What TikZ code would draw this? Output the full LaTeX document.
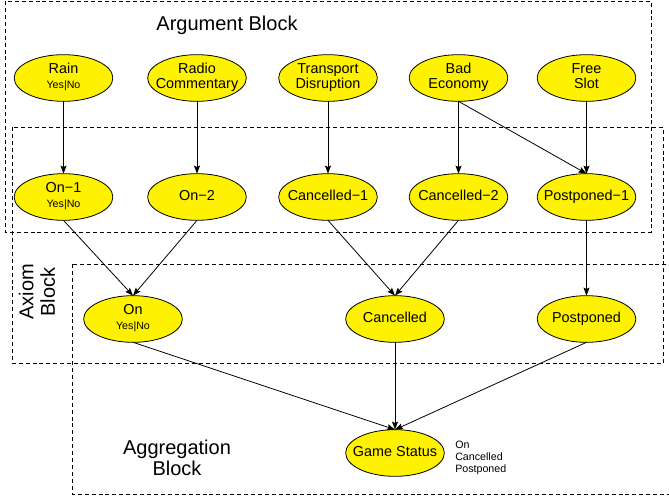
\documentclass[tikz,border=0pt]{standalone}
\usepackage{fontspec}
\setmainfont{Liberation Sans}
\usetikzlibrary{shapes.geometric,arrows.meta}
\newcommand{\elltext}[1]{\makebox[0pt]{\begin{tabular}{@{}c@{}}#1\end{tabular}}}
\newcommand{\smallopt}[1]{{\fontsize{8}{9}\selectfont #1}}
\begin{document}
\begin{tikzpicture}[x=0.75pt, y=-0.75pt,
    factor/.style={ellipse, draw, line width=0.6pt, fill=yellow, inner sep=0pt, outer sep=0pt, minimum width=74pt, minimum height=35pt, font=\fontsize{10.8}{11.5}\selectfont},
    link/.style={line width=0.6pt, -{Stealth[length=6pt, width=4.5pt, inset=1pt]}},
    blockbox/.style={dashed, dash pattern=on 3pt off 2.2pt, line width=0.6pt},
    blocklabel/.style={font=\fontsize{15}{16}\selectfont, inner sep=0pt}]
        \useasboundingbox (0,0) rectangle (669,498);

        % blocks
        \draw[blockbox] (5,1) rectangle (651,232);
        \draw[blockbox] (12,127) rectangle (663,363);
        \draw[blockbox] (72,264) rectangle (680,494);

        \draw (227,25) node[blocklabel] (arg-l) {Argument Block};
        \draw (37,292) node[blocklabel, rotate=90, align=center] (ax-l) {Axiom\\Block};
        \draw (177,458) node[blocklabel, align=center] (agg-l) {Aggregation\\Block};

        % arguments
        \draw (63.5,78) node[factor] (rain) {\elltext{Rain\\\smallopt{Yes|No}}};
        \draw (197,78) node[factor] (radio) {\elltext{Radio\\Commentary}};
        \draw (328,78) node[factor] (transp) {\elltext{Transport\\Disruption}};
        \draw (458.5,78) node[factor] (econ) {\elltext{Bad\\Economy}};
        \draw (586.5,78) node[factor] (slot) {\elltext{Free\\Slot}};

        % axioms
        \draw (63.5,197) node[factor] (on-1) {\elltext{On−1\\\smallopt{Yes|No}}};
        \draw (197,197) node[factor] (on-2) {\elltext{On−2}};
        \draw (328,197) node[factor] (canc-1) {\elltext{Cancelled−1}};
        \draw (458.5,197) node[factor] (canc-2) {\elltext{Cancelled−2}};
        \draw (586.5,197) node[factor] (post-1) {\elltext{Postponed−1}};

        \draw (133,319) node[factor] (on) {\elltext{On\\\smallopt{Yes|No}}};
        \draw (395,319) node[factor] (canc) {\elltext{Cancelled}};
        \draw (586.5,319) node[factor] (post) {\elltext{Postponed}};

        % aggregation
        \draw (395,453) node[factor] (game) {\elltext{Game Status}};
        \draw (455,458) node[anchor=west, align=left, inner sep=0pt, font=\fontsize{8}{9.2}\selectfont] (game-v) {On\\Cancelled\\Postponed};

        \draw[link] (rain.south) -- (on-1.north);
        \draw[link] (radio.south) -- (on-2.north);
        \draw[link] (transp.south) -- (canc-1.north);
        \draw[link] (econ.south) -- (canc-2.north);
        \draw[link] (econ.south) -- (post-1.north);
        \draw[link] (slot.south) -- (post-1.north);

        \draw[link] (on-1.south) -- (on.north);
        \draw[link] (on-2.south) -- (on.north);
        \draw[link] (canc-1.south) -- (canc.north);
        \draw[link] (canc-2.south) -- (canc.north);
        \draw[link] (post-1.south) -- (post.north);

        \draw[link] (on.south) -- (game.north);
        \draw[link] (canc.south) -- (game.north);
        \draw[link] (post.south) -- (game.north);
      \end{tikzpicture}
\end{document}
